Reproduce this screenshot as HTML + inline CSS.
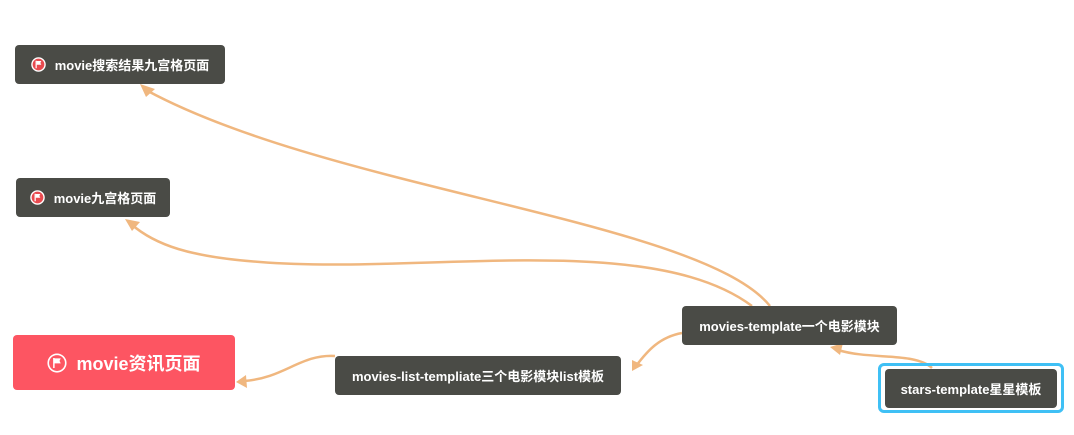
<!DOCTYPE html>
<html><head><meta charset="utf-8"><style>
body{margin:0;width:1074px;height:435px;background:#fff;position:relative;overflow:hidden;font-family:"Liberation Sans","Noto Sans CJK SC",sans-serif;}
.n{position:absolute;background:#4a4b46;color:#fff;border-radius:4px;font-size:13px;font-weight:bold;display:flex;align-items:center;justify-content:center;box-sizing:border-box;white-space:nowrap;}
.n svg{position:static;margin-right:9px;}
svg{position:absolute;left:0;top:0;}
</style></head><body>
<svg width="1074" height="435">
<g fill="none" stroke="#f0b77f" stroke-width="2.5">
<path d="M770,306 C700,220 330,190 146,90"/>
<path d="M752,306 C650,230 420,275 260,262 C190,257 155,245 131,224"/>
<path d="M682,333 C660,337 648,350 636,366"/>
<path d="M335,356 C300,354 285,378 244,381"/>
<path d="M932,368 C915,352 870,360 838,350"/>
</g>
<g fill="#f0b77f">
<polygon points="140,84 155,89 146,97"/>
<polygon points="125,219 140,222 132,231"/>
<polygon points="632,371 632,360 643,365"/>
<polygon points="236,382 246,375 247,388"/>
<polygon points="830,347 843,343 840,355"/>
</g>
</svg>
<div class="n" style="left:15px;top:45px;width:210px;height:39px;"><svg width="15" height="15" viewBox="0 0 16 16"><circle cx="8" cy="8" r="7" fill="#e84a4f" stroke="#fff" stroke-width="1.5"/><path d="M5.5,4 V12" stroke="#fff" stroke-width="1.3"/><path d="M6,4.3 H11 L10,6.3 L11,8.3 H6Z" fill="#fff"/></svg>movie搜索结果九宫格页面</div>
<div class="n" style="left:16px;top:178px;width:154px;height:39px;"><svg width="15" height="15" viewBox="0 0 16 16"><circle cx="8" cy="8" r="7" fill="#e84a4f" stroke="#fff" stroke-width="1.5"/><path d="M5.5,4 V12" stroke="#fff" stroke-width="1.3"/><path d="M6,4.3 H11 L10,6.3 L11,8.3 H6Z" fill="#fff"/></svg>movie九宫格页面</div>
<div class="n" style="left:13px;top:335px;width:222px;height:55px;background:#fd5562;font-size:18px;"><svg width="20" height="20" viewBox="0 0 16 16"><circle cx="8" cy="8" r="7" fill="#fd5562" stroke="#fff" stroke-width="1.3"/><path d="M5.5,4 V12" stroke="#fff" stroke-width="1.2"/><path d="M6,4.3 H11 L10,6.3 L11,8.3 H6Z" fill="#fff"/></svg>movie资讯页面</div>
<div class="n" style="left:335px;top:356px;width:286px;height:39px;">movies-list-templiate三个电影模块list模板</div>
<div class="n" style="left:682px;top:306px;width:215px;height:39px;">movies-template一个电影模块</div>
<div style="position:absolute;left:878px;top:363px;width:186px;height:50px;border:3px solid #3fc0f5;border-radius:6px;box-sizing:border-box;"></div>
<div class="n" style="left:885px;top:369px;width:172px;height:39px;">stars-template星星模板</div>
</body></html>
